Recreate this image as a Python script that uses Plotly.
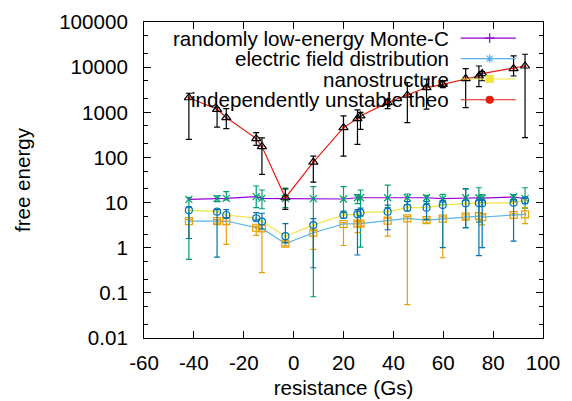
import plotly.graph_objects as go

# ---- data ----
x_vals = [-42, -30.7, -27, -15, -12.7, -3.3, 7.9, 20, 25.6, 26.8, 37.7, 45.6, 53.3, 59.8, 69, 74.3, 75.6, 88.2, 92.8]

monte_y = [11.8, 12.2, 12.4, 13.5, 12.4, 12.2, 12.2, 12.0, 12.8, 12.8, 12.8, 12.8, 12.8, 12.2, 12.8, 12.8, 12.5, 13.3, 12.2]
monte_lo = [0.55, 10.5, 11.4, 7.7, 7.3, 7.7, 0.082, 6.0, 9.5, 1.03, 7.7, 9.0, 9.5, 9.0, 2.8, 3.7, 10.0, 10.5, 7.5]
monte_hi = [12.9, 14.0, 17.5, 23.3, 19.0, 21.0, 22.5, 22.5, 15.0, 19.0, 24.4, 15.5, 14.4, 15.2, 20.3, 21.3, 15.0, 15.0, 21.3]

efield_y = [3.9, 3.9, 3.9, 2.77, 2.68, 1.23, 2.15, 3.35, 3.4, 3.4, 4.0, 4.46, 4.1, 4.4, 4.87, 5.0, 4.77, 5.3, 5.5]
efield_lo = [1.6, 3.5, 1.18, 1.87, 0.28, 1.1, 0.92, 1.12, 2.15, 3.0, 1.8, 0.055, 3.5, 0.6, 4.3, 4.3, 3.2, 4.5, 3.4]
efield_hi = [4.2, 4.2, 4.5, 3.0, 3.2, 1.4, 2.4, 3.6, 3.8, 3.7, 4.5, 4.9, 4.5, 4.8, 5.3, 6.0, 5.3, 5.8, 7.7]

nano_y = [6.8, 6.3, 5.3, 4.5, 3.8, 1.8, 3.17, 5.3, 5.5, 6.0, 6.3, 7.7, 7.7, 8.8, 9.6, 9.6, 9.6, 9.9, 11.2]
nano_lo = [1.6, 0.62, 4.6, 4.1, 2.6, 1.3, 0.36, 4.5, 0.69, 5.0, 2.5, 6.5, 4.2, 1.0, 2.78, 0.67, 1.0, 1.4, 9.5]
nano_hi = [8.0, 7.0, 7.0, 6.0, 5.8, 3.4, 4.4, 6.5, 7.0, 7.5, 8.8, 10.5, 10.5, 11.0, 20.0, 12.0, 11.5, 11.5, 12.5]

theo_y = [2100, 1165, 765, 261, 174, 12.8, 79, 458, 725, 830, 1640, 2390, 3530, 4170, 5580, 6360, 7200, 9300, 10600]
theo_lo = [250, 470, 436, 185, 42, 7.1, 28.5, 107, 195, 420, 1205, 590, 1170, 3500, 1270, 3720, 5000, 6360, 275]
theo_hi = [2640, 1260, 1200, 355, 270, 20, 107, 830, 1130, 1000, 1950, 4550, 5400, 4900, 9300, 10600, 8000, 17700, 19300]

names = ["randomly low-energy Monte-C", "electric field distribution", "nanostructure", "independently unstable theo"]
y_tickvals = [0.01, 0.1, 1, 10, 100, 1000, 10000, 100000]
y_ticktext = ["0.01", "0.1", "1", "10", "100", "1000", "10000", "100000"]
x_tickvals = [-60, -40, -20, 0, 20, 40, 60, 80, 100]
x_ticktext = ["-60", "-40", "-20", "0", "20", "40", "60", "80", "100"]

FONT = "Liberation Sans, Arial, Helvetica, sans-serif"
FS = 20.6

series = [
    (monte_y, monte_lo, monte_hi, "#9400d3", "cross-thin-open", "#009e73", "x-thin-open", 7),
    (efield_y, efield_lo, efield_hi, "#56b4e9", "asterisk-open", "#e69f00", "square-open", 7),
    (nano_y, nano_lo, nano_hi, "#f0e442", "square", "#0072b2", "circle-open", 7),
    (theo_y, theo_lo, theo_hi, "#e51e10", "circle", "#000000", "triangle-up-open", 8),
]

fig = go.Figure()
for ys, lo, hi, lc, lsym, ec, esym, esz in series:
    fig.add_trace(go.Scatter(
        x=x_vals, y=ys, mode="lines+markers",
        line=dict(color=lc, width=1.2),
        marker=dict(symbol=lsym, size=2, color=lc, line=dict(color=lc, width=1)),
        showlegend=False, hoverinfo="skip"))
    fig.add_trace(go.Scatter(
        x=x_vals, y=ys, mode="markers",
        marker=dict(symbol=esym, size=esz, color=ec, line=dict(color=ec, width=1.2)),
        error_y=dict(type="data", symmetric=False,
                     array=[h - v for h, v in zip(hi, ys)],
                     arrayminus=[v - l for v, l in zip(ys, lo)],
                     color=ec, thickness=1.2, width=3),
        showlegend=False, hoverinfo="skip"))

# gnuplot-style key (text right-aligned, sample to its right) on an overlay axis
rows = [0.949, 0.884, 0.8196, 0.754]
for (ys, lo, hi, lc, lsym, ec, esym, esz), r, nm in zip(series, rows, names):
    fig.add_trace(go.Scatter(x=[0.7937, 0.9316], y=[r, r], mode="lines",
                             line=dict(color=lc, width=1.2), xaxis="x2", yaxis="y2",
                             showlegend=False, hoverinfo="skip"))
    fig.add_trace(go.Scatter(x=[0.8664], y=[r], mode="markers",
                             marker=dict(symbol=lsym, size=7, color=lc, line=dict(color=lc, width=1.2)),
                             xaxis="x2", yaxis="y2", showlegend=False, hoverinfo="skip"))
    fig.add_annotation(text=nm, xref="paper", yref="paper", x=0.766, y=r,
                       xanchor="right", yanchor="middle", showarrow=False, borderpad=0,
                       font=dict(family=FONT, size=FS, color="black"))

axis_common = dict(showline=True, linecolor="black", linewidth=1, mirror="allticks",
                   ticks="inside", ticklen=7, tickcolor="black", showgrid=False, zeroline=False,
                   tickfont=dict(family=FONT, size=FS, color="black"))

fig.update_layout(
    width=572, height=401,
    margin=dict(l=144, r=29, t=22, b=63, autoexpand=False),
    paper_bgcolor="white", plot_bgcolor="white",
    font=dict(family=FONT, size=FS, color="black"),
    xaxis=dict(range=[-60, 100], tickvals=x_tickvals, ticktext=x_ticktext, ticklabelstandoff=6,
               title=dict(text="resistance (Gs)", font=dict(family=FONT, size=FS), standoff=7),
               **axis_common),
    yaxis=dict(type="log", range=[-2, 5], tickvals=y_tickvals, ticktext=y_ticktext, ticklabelstandoff=11,
               minor=dict(ticks="inside", ticklen=4, tickcolor="black", showgrid=False),
               title=dict(text="free energy", font=dict(family=FONT, size=FS), standoff=22),
               **axis_common),
    xaxis2=dict(overlaying="x", range=[0, 1], visible=False),
    yaxis2=dict(overlaying="y", range=[0, 1], visible=False),
)

fig.write_html("out.html", config={"displayModeBar": False},
               post_script="document.body.style.margin='0';")
